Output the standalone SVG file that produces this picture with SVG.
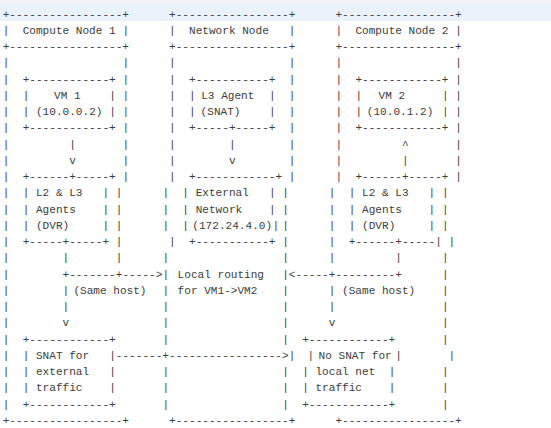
<svg xmlns="http://www.w3.org/2000/svg" width="551" height="428" viewBox="0 0 551 428">
<style>
text{font-family:"Liberation Mono","DejaVu Sans Mono",monospace;font-size:11.09px;fill:#3c3c3c}
</style>
<rect x="0" y="0" width="551" height="428" fill="#ffffff"/>
<rect x="0" y="0" width="551" height="4" fill="#f2f3f5"/>
<rect x="0" y="4" width="551" height="17" fill="#eaf2fc"/>
<g id="compute-node-1"><text>
<tspan x="2.68" y="17.5">+-----------------+</tspan>
<tspan x="2.68" y="33.75">|</tspan><tspan x="22.65" y="33.75">Compute Node 1</tspan><tspan x="122.47" y="33.75">|</tspan>
<tspan x="2.68" y="50">+-----------------+</tspan>
<tspan x="2.68" y="66.25">|</tspan><tspan x="122.47" y="66.25">|</tspan>
<tspan x="2.68" y="82.5">|</tspan><tspan x="122.47" y="82.5">|</tspan>
<tspan x="2.68" y="98.75">|</tspan><tspan x="122.47" y="98.75">|</tspan>
<tspan x="2.68" y="115">|</tspan><tspan x="122.47" y="115">|</tspan>
<tspan x="2.68" y="131.25">|</tspan><tspan x="122.47" y="131.25">|</tspan>
<tspan x="2.68" y="147.5">|</tspan><tspan x="122.47" y="147.5">|</tspan>
<tspan x="2.68" y="163.75">|</tspan><tspan x="122.47" y="163.75">|</tspan>
<tspan x="2.68" y="180">|</tspan><tspan x="122.47" y="180">|</tspan>
<tspan x="2.68" y="196.25">|</tspan><tspan x="115.82" y="196.25">|</tspan>
<tspan x="2.68" y="212.5">|</tspan><tspan x="115.82" y="212.5">|</tspan>
<tspan x="2.68" y="228.75">|</tspan><tspan x="115.82" y="228.75">|</tspan>
<tspan x="2.68" y="245">|</tspan><tspan x="115.82" y="245">|</tspan>
<tspan x="2.68" y="261.25">|</tspan><tspan x="115.82" y="261.25">|</tspan>
<tspan x="2.68" y="277.5">|</tspan>
<tspan x="2.68" y="293.75">|</tspan>
<tspan x="2.68" y="310">|</tspan>
<tspan x="2.68" y="326.25">|</tspan>
<tspan x="2.68" y="342.5">|</tspan>
<tspan x="2.68" y="358.75">|</tspan>
<tspan x="2.68" y="375">|</tspan>
<tspan x="2.68" y="391.25">|</tspan>
<tspan x="2.68" y="407.5">|</tspan>
<tspan x="2.68" y="423.75">+-----------------+</tspan>
</text></g>
<g id="vm-1"><text>
<tspan x="22.65" y="82.5">+------------+</tspan>
<tspan x="22.65" y="98.75">|</tspan><tspan x="54" y="98.75">VM 1</tspan><tspan x="109.16" y="98.75">|</tspan>
<tspan x="22.65" y="115">|</tspan><tspan x="35.96" y="115">(10.0.0.2)</tspan><tspan x="109.16" y="115">|</tspan>
<tspan x="22.65" y="131.25">+------------+</tspan>
</text></g>
<g id="l2-l3-agents-1"><text>
<tspan x="22.65" y="180">+------+-----+</tspan>
<tspan x="22.65" y="196.25">|</tspan><tspan x="35.96" y="196.25">L2 &amp; L3</tspan><tspan x="102.51" y="196.25">|</tspan>
<tspan x="22.65" y="212.5">|</tspan><tspan x="35.96" y="212.5">Agents</tspan><tspan x="102.51" y="212.5">|</tspan>
<tspan x="22.65" y="228.75">|</tspan><tspan x="35.96" y="228.75">(DVR)</tspan><tspan x="102.51" y="228.75">|</tspan>
<tspan x="22.65" y="245">+-----+-----+</tspan>
</text></g>
<g id="snat-external"><text>
<tspan x="22.65" y="342.5">+------------+</tspan>
<tspan x="22.65" y="358.75">|</tspan><tspan x="35.96" y="358.75">SNAT for</tspan><tspan x="109.16" y="358.75">|</tspan>
<tspan x="22.65" y="375">|</tspan><tspan x="35.96" y="375">external</tspan><tspan x="109.16" y="375">|</tspan>
<tspan x="22.65" y="391.25">|</tspan><tspan x="35.96" y="391.25">traffic</tspan><tspan x="109.16" y="391.25">|</tspan>
<tspan x="22.65" y="407.5">+------------+</tspan>
</text></g>
<g id="network-node"><text>
<tspan x="169.06" y="17.5">+-----------------+</tspan>
<tspan x="169.06" y="33.75">|</tspan><tspan x="189.02" y="33.75">Network Node</tspan><tspan x="288.85" y="33.75">|</tspan>
<tspan x="169.06" y="50">+-----------------+</tspan>
<tspan x="169.06" y="66.25">|</tspan><tspan x="288.85" y="66.25">|</tspan>
<tspan x="169.06" y="82.5">|</tspan><tspan x="288.85" y="82.5">|</tspan>
<tspan x="169.06" y="98.75">|</tspan><tspan x="288.85" y="98.75">|</tspan>
<tspan x="169.06" y="115">|</tspan><tspan x="288.85" y="115">|</tspan>
<tspan x="169.06" y="131.25">|</tspan><tspan x="288.85" y="131.25">|</tspan>
<tspan x="169.06" y="147.5">|</tspan><tspan x="288.85" y="147.5">|</tspan>
<tspan x="169.06" y="163.75">|</tspan><tspan x="288.85" y="163.75">|</tspan>
<tspan x="169.06" y="180">|</tspan><tspan x="288.85" y="180">|</tspan>
<tspan x="162.4" y="196.25">|</tspan><tspan x="282.19" y="196.25">|</tspan>
<tspan x="162.4" y="212.5">|</tspan><tspan x="282.19" y="212.5">|</tspan>
<tspan x="162.4" y="228.75">|</tspan><tspan x="282.19" y="228.75">|</tspan>
<tspan x="169.06" y="245">|</tspan><tspan x="282.19" y="245">|</tspan>
<tspan x="162.4" y="261.25">|</tspan><tspan x="282.19" y="261.25">|</tspan>
<tspan x="162.4" y="277.5">|</tspan><tspan x="282.19" y="277.5">|</tspan>
<tspan x="162.4" y="293.75">|</tspan><tspan x="282.19" y="293.75">|</tspan>
<tspan x="162.4" y="310">|</tspan><tspan x="282.19" y="310">|</tspan>
<tspan x="162.4" y="326.25">|</tspan><tspan x="282.19" y="326.25">|</tspan>
<tspan x="162.4" y="342.5">|</tspan><tspan x="282.19" y="342.5">|</tspan>
<tspan x="288.85" y="358.75">|</tspan>
<tspan x="162.4" y="375">|</tspan><tspan x="282.19" y="375">|</tspan>
<tspan x="162.4" y="391.25">|</tspan><tspan x="282.19" y="391.25">|</tspan>
<tspan x="162.4" y="407.5">|</tspan><tspan x="282.19" y="407.5">|</tspan>
<tspan x="169.06" y="423.75">+-----------------+</tspan>
</text></g>
<g id="l3-agent"><text>
<tspan x="189.02" y="82.5">+-----------+</tspan>
<tspan x="189.02" y="98.75">|</tspan><tspan x="201.2" y="98.75">L3 Agent</tspan><tspan x="268.88" y="98.75">|</tspan>
<tspan x="189.02" y="115">|</tspan><tspan x="200.6" y="115">(SNAT)</tspan><tspan x="268.88" y="115">|</tspan>
<tspan x="189.02" y="131.25">+-----+-----+</tspan>
</text></g>
<g id="external-network"><text>
<tspan x="189.02" y="180">+------------+</tspan>
<tspan x="182.37" y="196.25">|</tspan><tspan x="195.68" y="196.25">External</tspan><tspan x="268.88" y="196.25">|</tspan>
<tspan x="182.37" y="212.5">|</tspan><tspan x="195.68" y="212.5">Network</tspan><tspan x="268.88" y="212.5">|</tspan>
<tspan x="182.37" y="228.75">|</tspan><tspan x="192.3" y="228.75">(172.24.4.0)</tspan><tspan x="272.4" y="228.75">|</tspan>
<tspan x="189.02" y="245">+-----------+</tspan>
</text></g>
<g id="local-routing"><text>
<tspan x="177.6" y="277.5">Local routing</tspan>
<tspan x="177.6" y="293.75">for VM1-&gt;VM2</tspan>
</text></g>
<g id="compute-node-2"><text>
<tspan x="335.43" y="17.5">+-----------------+</tspan>
<tspan x="335.43" y="33.75">|</tspan><tspan x="355.4" y="33.75">Compute Node 2</tspan><tspan x="455.22" y="33.75">|</tspan>
<tspan x="335.43" y="50">+-----------------+</tspan>
<tspan x="335.43" y="66.25">|</tspan><tspan x="455.22" y="66.25">|</tspan>
<tspan x="335.43" y="82.5">|</tspan><tspan x="455.22" y="82.5">|</tspan>
<tspan x="335.43" y="98.75">|</tspan><tspan x="455.22" y="98.75">|</tspan>
<tspan x="335.43" y="115">|</tspan><tspan x="455.22" y="115">|</tspan>
<tspan x="335.43" y="131.25">|</tspan><tspan x="455.22" y="131.25">|</tspan>
<tspan x="335.43" y="147.5">|</tspan><tspan x="455.22" y="147.5">|</tspan>
<tspan x="335.43" y="163.75">|</tspan><tspan x="455.22" y="163.75">|</tspan>
<tspan x="335.43" y="180">|</tspan><tspan x="455.22" y="180">|</tspan>
<tspan x="328.78" y="196.25">|</tspan><tspan x="441.91" y="196.25">|</tspan>
<tspan x="328.78" y="212.5">|</tspan><tspan x="441.91" y="212.5">|</tspan>
<tspan x="328.78" y="228.75">|</tspan><tspan x="441.91" y="228.75">|</tspan>
<tspan x="328.78" y="245">|</tspan><tspan x="448.57" y="245">|</tspan>
<tspan x="328.78" y="261.25">|</tspan><tspan x="441.91" y="261.25">|</tspan>
<tspan x="441.91" y="277.5">|</tspan>
<tspan x="441.91" y="293.75">|</tspan>
<tspan x="441.91" y="310">|</tspan>
<tspan x="441.91" y="326.25">|</tspan>
<tspan x="441.91" y="342.5">|</tspan>
<tspan x="448.57" y="358.75">|</tspan>
<tspan x="441.91" y="375">|</tspan>
<tspan x="441.91" y="391.25">|</tspan>
<tspan x="441.91" y="407.5">|</tspan>
<tspan x="335.43" y="423.75">+-----------------+</tspan>
</text></g>
<g id="vm-2"><text>
<tspan x="355.4" y="82.5">+------------+</tspan>
<tspan x="355.4" y="98.75">|</tspan><tspan x="378.6" y="98.75">VM 2</tspan><tspan x="441.91" y="98.75">|</tspan>
<tspan x="355.4" y="115">|</tspan><tspan x="366.8" y="115">(10.0.1.2)</tspan><tspan x="441.91" y="115">|</tspan>
<tspan x="355.4" y="131.25">+------------+</tspan>
</text></g>
<g id="l2-l3-agents-2"><text>
<tspan x="355.4" y="180">+------+-----+</tspan>
<tspan x="348.74" y="196.25">|</tspan><tspan x="362.05" y="196.25">L2 &amp; L3</tspan><tspan x="428.6" y="196.25">|</tspan>
<tspan x="348.74" y="212.5">|</tspan><tspan x="362.05" y="212.5">Agents</tspan><tspan x="428.6" y="212.5">|</tspan>
<tspan x="348.74" y="228.75">|</tspan><tspan x="362.05" y="228.75">(DVR)</tspan><tspan x="428.6" y="228.75">|</tspan>
<tspan x="348.74" y="245">+------+-----|</tspan>
</text></g>
<g id="no-snat-local"><text>
<tspan x="302.16" y="342.5">+------------+</tspan>
<tspan x="307.5" y="358.75">|</tspan><tspan x="318.6" y="358.75">No SNAT for</tspan><tspan x="395.33" y="358.75">|</tspan>
<tspan x="302.16" y="375">|</tspan><tspan x="315.47" y="375">local net</tspan><tspan x="388.67" y="375">|</tspan>
<tspan x="302.16" y="391.25">|</tspan><tspan x="315.47" y="391.25">traffic</tspan><tspan x="388.67" y="391.25">|</tspan>
<tspan x="302.16" y="407.5">+------------+</tspan>
</text></g>
<g id="connectors"><text>
<tspan x="69.23" y="147.5">|</tspan><tspan x="228.95" y="147.5">|</tspan><tspan x="401.98" y="147.5">^</tspan>
<tspan x="69.23" y="163.75">v</tspan><tspan x="228.95" y="163.75">v</tspan><tspan x="401.98" y="163.75">|</tspan>
<tspan x="62.58" y="261.25">|</tspan><tspan x="395.33" y="261.25">|</tspan>
<tspan x="62.58" y="277.5">+-------+-----&gt;</tspan><tspan x="288.85" y="277.5">&lt;-----+---------+</tspan>
<tspan x="62.58" y="293.75">|</tspan><tspan x="73.4" y="293.75">(Same host)</tspan><tspan x="328.78" y="293.75">|</tspan><tspan x="342.09" y="293.75">(Same host)</tspan>
<tspan x="62.58" y="310">|</tspan><tspan x="328.78" y="310">|</tspan>
<tspan x="62.58" y="326.25">v</tspan><tspan x="328.78" y="326.25">v</tspan>
<tspan x="115.82" y="358.75">-------+-----------------&gt;</tspan>
</text></g>
</svg>
